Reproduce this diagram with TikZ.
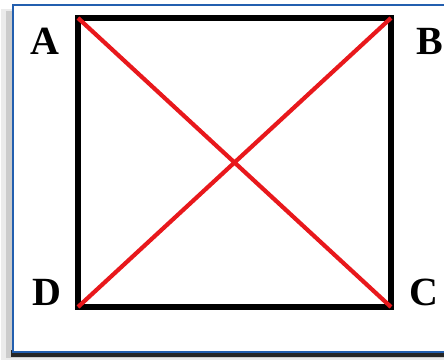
\documentclass[tikz,border=0pt]{standalone}
\usepackage{fontspec}
\setmainfont{Liberation Serif}
\definecolor{frameblue}{RGB}{35,95,175}
\definecolor{xred}{RGB}{232,24,28}
\begin{document}
\begin{tikzpicture}[x=1pt,y=-1pt,
          corner/.style={font=\fontsize{40}{40}\selectfont\bfseries},
          side/.style={line width=6pt,line cap=rect},
          diag/.style={xred,line width=4.2pt}]
        \useasboundingbox (0,0) rectangle (444,361);
        % frame with shadow
        \fill[black!8] (1,9) rectangle (444,360);
        \fill[black!20] (6,11) rectangle (444,358);
        \fill[black!85] (11,350) rectangle (444,357);
        \fill[white] (13,5) rectangle (452,352);
        \draw[frameblue,line width=1.8pt] (13,5) rectangle (452,352);
        % corners of the square
        \coordinate (a) at (78,18);
        \coordinate (b) at (391,18);
        \coordinate (c) at (391,307);
        \coordinate (d) at (78,307);
        \node[corner] (la) at (45,41) {A};
        \node[corner] (lb) at (430,41) {B};
        \node[corner] (lc) at (424,292) {C};
        \node[corner] (ld) at (47,292) {D};
        \draw[side] (a) -- (b) -- (c) -- (d) -- cycle;
        \draw[diag] (a) -- (c);
        \draw[diag] (b) -- (d);
        \end{tikzpicture}
\end{document}
